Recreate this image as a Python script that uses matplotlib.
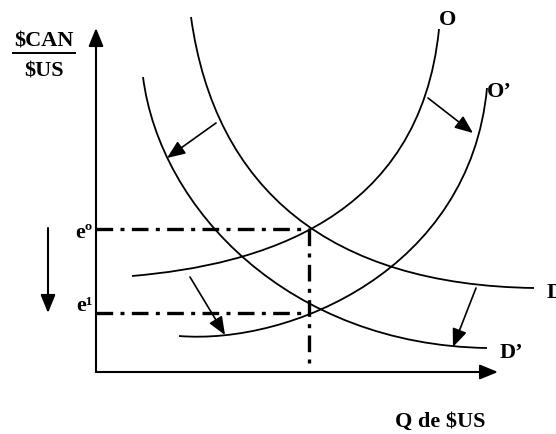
import matplotlib.pyplot as plt
from matplotlib.path import Path
from matplotlib.patches import PathPatch

plt.rcParams['font.family'] = ['Liberation Serif', 'DejaVu Serif']

# diagram geometry, in pixels of the 556x434 picture (y grows downward)
origin = (96, 372)
y_top = 28
x_right = 498

# cubic Bezier control points of the four curves
curve_D = [(191, 17), (215, 190), (330, 285), (534, 288)]
curve_D2 = [(143, 77), (160, 210), (290, 345), (487, 348)]
curve_O = [(132, 276), (260, 265), (420, 220), (439, 29)]
curve_O2 = [(179, 336), (290, 345), (470, 270), (487, 88)]

# equilibrium
q_star = 309
e0 = 229
e1 = 313

# shift arrows (start, end)
shifts = [((216, 123), (167, 158)),
          ((428, 98), (473, 133)),
          ((190, 277), (225, 335)),
          ((476, 288), (453, 347))]
down_arrow = ((48, 228), (48, 313))

labels = [('O', 448, 20, 'center'),
          ('O\u2019', 487, 92, 'left'),
          ('D', 547, 293, 'left'),
          ('D\u2019', 500, 353, 'left')]

fig = plt.figure(figsize=(5.56, 4.34), dpi=100)
ax = fig.add_axes([0, 0, 1, 1])
ax.set_xlim(0, 556)
ax.set_ylim(434, 0)
ax.axis('off')

codes = [Path.MOVETO, Path.CURVE4, Path.CURVE4, Path.CURVE4]
for pts in [curve_D, curve_D2, curve_O, curve_O2]:
    ax.add_patch(PathPatch(Path(pts, codes), fill=False, lw=1.3, color='black'))

# axes with arrow heads
arw = dict(arrowstyle='-|>,head_length=1.1,head_width=0.45', color='black', lw=1.5,
           shrinkA=0, shrinkB=0)
ax.annotate('', xy=(origin[0], y_top), xytext=origin, arrowprops=arw)
ax.annotate('', xy=(x_right, origin[1]), xytext=origin, arrowprops=arw)

# equilibrium guides
dd = (0, (5, 2.2, 1.2, 2.2))
ax.plot([origin[0], q_star], [e0, e0], color='black', lw=2.4, ls=dd)
ax.plot([origin[0], q_star], [e1, e1], color='black', lw=2.4, ls=dd)
ax.plot([q_star, q_star], [e0, origin[1] - 7], color='black', lw=2.4, ls=dd)

arw2 = dict(arrowstyle='-|>,head_length=1.1,head_width=0.45', color='black', lw=1.2,
            shrinkA=0, shrinkB=0)
for a, b in shifts:
    ax.annotate('', xy=b, xytext=a, arrowprops=arw2)
ax.annotate('', xy=down_arrow[1], xytext=down_arrow[0], arrowprops=arw)

fs = 16
for txt, x, y, ha in labels:
    ax.text(x, y, txt, fontsize=fs, fontweight='bold', ha=ha, va='center', parse_math=False)

ax.text(93, 233, 'e\u00ba', fontsize=fs, fontweight='bold', ha='right', va='center')
ax.text(93, 306, 'e\u00b9', fontsize=fs, fontweight='bold', ha='right', va='center')
ax.text(44, 42, '$CAN', fontsize=fs, fontweight='bold', ha='center', va='center', parse_math=False)
ax.plot([13, 75], [53, 53], color='black', lw=1.4)
ax.text(44, 71, '$US', fontsize=fs, fontweight='bold', ha='center', va='center', parse_math=False)
ax.text(440, 422, 'Q de $US', fontsize=fs, fontweight='bold', ha='center', va='center', parse_math=False)

fig.savefig('out.png', dpi=100)
